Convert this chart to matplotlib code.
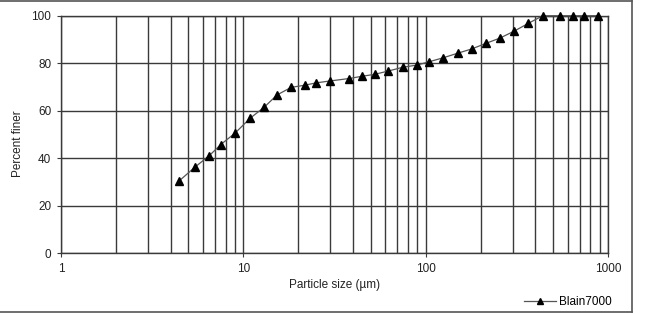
import numpy as np
import matplotlib
matplotlib.use("Agg")
import matplotlib.pyplot as plt
from matplotlib.lines import Line2D
from matplotlib.ticker import LogLocator, NullFormatter, FixedLocator

# particle size distribution
size_um = [4.45, 5.43, 6.5, 7.52, 9.0, 10.9, 13.0, 15.3, 18.3, 21.7, 25.1,
           29.9, 37.8, 45.0, 52.6, 62.5, 75.1, 89.8, 104.5, 124, 150, 179,
           215, 256, 306, 366, 439, 545, 644, 734, 878]
pct_finer = [30.4, 36.2, 41.0, 45.7, 50.5, 56.8, 61.4, 66.6, 69.8, 70.7, 71.7,
             72.5, 73.5, 74.5, 75.3, 76.7, 78.3, 79.2, 80.6, 82.2, 84.2, 86.0,
             88.4, 90.6, 93.5, 96.8, 100, 100, 100, 100, 100]
series_name = "Blain7000"
x_ticks = [1, 10, 100, 1000]
y_ticks = [0, 20, 40, 60, 80, 100]

plt.rcParams["font.family"] = ["Liberation Sans", "DejaVu Sans"]
plt.rcParams["font.size"] = 8.5

fig = plt.figure(figsize=(6.51, 3.14), dpi=100)
ax = fig.add_axes([61 / 651, 1 - 253 / 314, (608 - 61) / 651, (253 - 15.7) / 314])

grid_c = "#3a3a3a"
ax.set_xscale("log")
ax.set_xlim(1, 1000)
ax.set_ylim(0, 100)
ax.xaxis.set_major_locator(FixedLocator(x_ticks))
ax.set_xticklabels([str(t) for t in x_ticks])
ax.xaxis.set_minor_locator(LogLocator(base=10, subs=np.arange(2, 10)))
ax.xaxis.set_minor_formatter(NullFormatter())
ax.set_yticks(y_ticks)
ax.grid(True, which="both", axis="x", color=grid_c, lw=1.0)
ax.grid(True, which="major", axis="y", color=grid_c, lw=1.0)
ax.tick_params(which="minor", length=0)
ax.tick_params(which="major", length=3, width=0.8, color=grid_c, pad=4,
               labelcolor="#222222")
for s in ax.spines.values():
    s.set_color(grid_c)
    s.set_linewidth(1.0)

ax.plot(size_um, pct_finer, color="#555555", lw=0.9, marker="^",
        markersize=5.5, markerfacecolor="black", markeredgecolor="black",
        label=series_name, zorder=5, clip_on=False)

ax.set_xlabel("Particle size (µm)", color="#222222", labelpad=3)
ax.set_ylabel("Percent finer", color="#222222")
ax.yaxis.set_label_coords(-0.068, 0.46)

leg = ax.legend(loc="center right", bbox_to_anchor=(1.006, -0.206),
                frameon=False, handlelength=2.7, handletextpad=0.25,
                borderaxespad=0, borderpad=0, markerscale=0.8)

# outer chart border: top, right and bottom edges
border = "#555555"
fig.add_artist(Line2D([0, 632 / 651], [1 - 1 / 314] * 2, color=border, lw=1.2,
                      transform=fig.transFigure))
fig.add_artist(Line2D([632 / 651] * 2, [1 - 312 / 314, 1 - 1 / 314], color=border,
                      lw=1.2, transform=fig.transFigure))
fig.add_artist(Line2D([0, 632 / 651], [1 - 312 / 314] * 2, color=border, lw=1.2,
                      transform=fig.transFigure))

fig.savefig("out.png", dpi=100)
